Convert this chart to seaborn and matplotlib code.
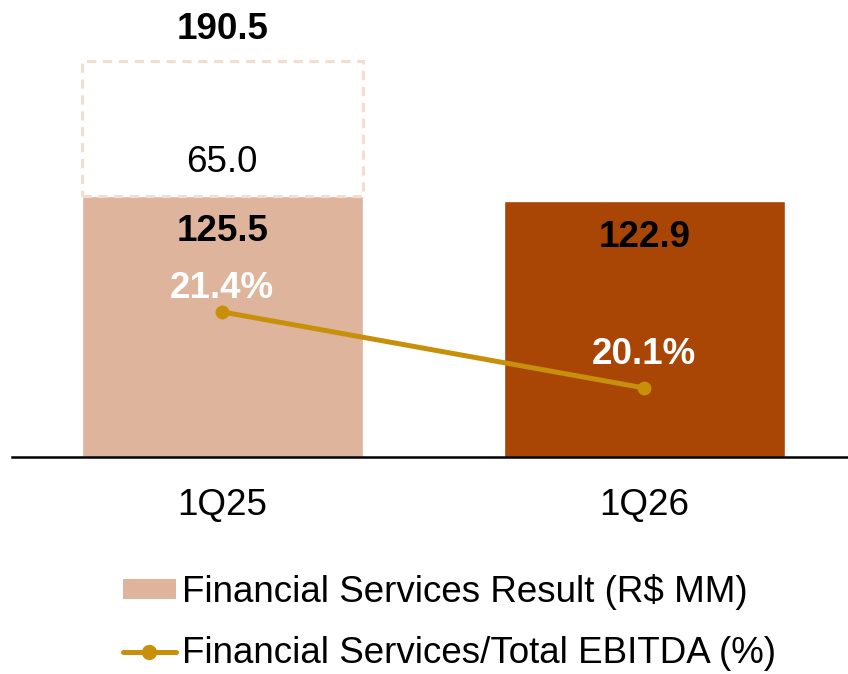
import numpy as np
import matplotlib.pyplot as plt
import pandas as pd
import seaborn as sns
from matplotlib.patches import Patch
from matplotlib.lines import Line2D

quarters = ["1Q25", "1Q26"]
resultado = [125.5, 122.9]
extra = [65.0, None]          # parcela adicional tracejada (só 1Q25)
total = [190.5, None]
share_ebitda = [21.4, 20.1]

cor_clara = "#DEB49C"
cor_escura = "#A94505"
cor_linha = "#C8900A"
cor_tracejado = "#F2DDD0"

sns.set_theme(style="white")
plt.rcParams["font.family"] = ["Liberation Sans", "DejaVu Sans"]
plt.rcParams["text.color"] = "black"
plt.rcParams["xtick.color"] = "black"

fig = plt.figure(figsize=(8.48, 6.74), dpi=100)
ax = fig.add_axes([12 / 848, 1 - 457 / 674, 836 / 848, 457 / 674])

df = pd.DataFrame({"quarter": quarters, "valor": resultado})
sns.barplot(data=df, x="quarter", y="valor", hue="quarter", saturation=1,
            palette=[cor_clara, cor_escura], width=0.666, legend=False, ax=ax)

# caixa tracejada com o valor adicional
ax.bar(0, extra[0], bottom=resultado[0], width=0.666, fill=False,
       edgecolor=cor_tracejado, linestyle=(0, (3, 2.2)), linewidth=2.2)

ax.set_xlim(-0.498, 1.483)
ax.set_ylim(0, 219.7)
ax.set_xlabel("")
ax.set_ylabel("")
ax.set_yticks([])
for s in ["top", "right", "left"]:
    ax.spines[s].set_visible(False)
ax.spines["bottom"].set_color("black")
ax.spines["bottom"].set_linewidth(1.8)

fs = 26.5
ax.tick_params(axis="x", length=0, pad=22, labelsize=fs, colors="black")

ax.text(0, 205.5, f"{total[0]:.1f}", ha="center", va="center", fontsize=fs, fontweight="bold", color="black")
ax.text(0, 141.5, f"{extra[0]:.1f}", ha="center", va="center", fontsize=fs, color="black")
ax.text(0, 108.5, f"{resultado[0]:.1f}", ha="center", va="center", fontsize=fs, fontweight="bold", color="black")
ax.text(1, 105.5, f"{resultado[1]:.1f}", ha="center", va="center", fontsize=fs, fontweight="bold", color="black")

ax2 = ax.twinx()
ax2.set_ylim(18.92, 26.73)
sns.lineplot(x=[0, 1], y=share_ebitda, color=cor_linha, linewidth=3.6,
             marker="o", markersize=10, markeredgewidth=0, ax=ax2)
ax2.set_yticks([])
for s in ax2.spines.values():
    s.set_visible(False)
ax2.text(0, share_ebitda[0] + 0.4, f"{share_ebitda[0]:.1f}%", ha="center", va="center",
         fontsize=fs, fontweight="bold", color="white")
ax2.text(1, share_ebitda[1] + 0.58, f"{share_ebitda[1]:.1f}%", ha="center", va="center",
         fontsize=fs, fontweight="bold", color="white")

handles = [Patch(facecolor=cor_clara, edgecolor="none"),
           Line2D([0], [0], color=cor_linha, linewidth=3.6, marker="o", markersize=10)]
labels = ["Financial Services Result (R$ MM)", "Financial Services/Total EBITDA (%)"]
fig.legend(handles, labels, loc="upper left", bbox_to_anchor=(108 / 848, 1 - 559 / 674),
           frameon=False, fontsize=fs, handlelength=1.45, handleheight=0.45,
           handletextpad=0.15, labelspacing=0.72, borderaxespad=0, labelcolor="black")

fig.savefig("out.png", dpi=100)
